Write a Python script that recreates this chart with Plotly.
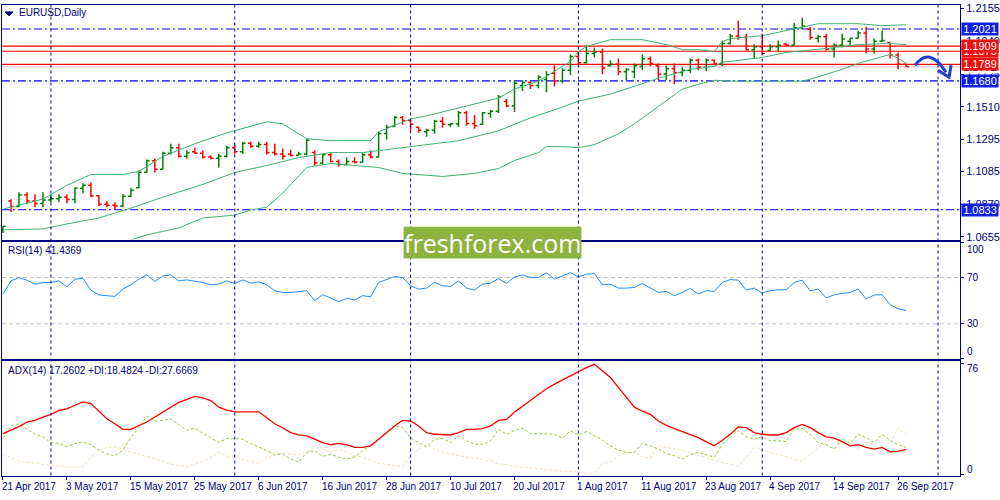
# EURUSD daily bars with Bollinger bands, RSI(14) and ADX(14) panels
import pandas as pd
import plotly.graph_objects as go

# ---------------------------------------------------------------- data
dates = pd.bdate_range("2017-04-21", "2017-09-27").strftime("%Y-%m-%d").tolist()

bar_open = [
    1.0700, 1.0890, 1.0855, 1.0930, 1.0890, 1.0875, 1.0898, 1.0905, 1.0915, 1.0900,
    1.0975, 1.0995, 1.0925, 1.0870, 1.0862, 1.0858, 1.0922, 1.0978, 1.1080, 1.1155,
    1.1100, 1.1205, 1.1240, 1.1185, 1.1215, 1.1205, 1.1180, 1.1172, 1.1185, 1.1240,
    1.1215, 1.1270, 1.1250, 1.1262, 1.1210, 1.1200, 1.1200, 1.1192, 1.1200, 1.1210,
    1.1140, 1.1195, 1.1150, 1.1130, 1.1150, 1.1145, 1.1195, 1.1180, 1.1335, 1.1380,
    1.1440, 1.1420, 1.1375, 1.1345, 1.1355, 1.1415, 1.1392, 1.1398, 1.1470, 1.1400,
    1.1395, 1.1465, 1.1480, 1.1545, 1.1515, 1.1650, 1.1670, 1.1650, 1.1690, 1.1730,
    1.1680, 1.1750, 1.1840, 1.1800, 1.1860, 1.1870, 1.1780, 1.1790, 1.1740, 1.1740,
    1.1775, 1.1825, 1.1780, 1.1725, 1.1760, 1.1735, 1.1750, 1.1815, 1.1770, 1.1815,
    1.1795, 1.1925, 1.1975, 1.1965, 1.1885, 1.1905, 1.1880, 1.1905, 1.1922, 1.1915,
    1.2030, 1.2020, 1.1960, 1.1970, 1.1890, 1.1915, 1.1940, 1.1960, 1.1995, 1.1890,
    1.1940, 1.1932, 1.1850, 1.1790,
]
bar_high = [
    1.0727, 1.0902, 1.0948, 1.0948, 1.0935, 1.0948, 1.0935, 1.0935, 1.0935, 1.0981,
    1.1007, 1.1013, 1.0929, 1.0889, 1.0883, 1.0935, 1.0974, 1.1091, 1.1163, 1.1170,
    1.1215, 1.1267, 1.1267, 1.1222, 1.1241, 1.1222, 1.1189, 1.1202, 1.1254, 1.1261,
    1.1280, 1.1280, 1.1280, 1.1280, 1.1267, 1.1235, 1.1228, 1.1215, 1.1300, 1.1222,
    1.1202, 1.1209, 1.1163, 1.1176, 1.1176, 1.1209, 1.1222, 1.1346, 1.1391, 1.1450,
    1.1450, 1.1430, 1.1378, 1.1365, 1.1424, 1.1443, 1.1404, 1.1482, 1.1482, 1.1456,
    1.1476, 1.1489, 1.1587, 1.1561, 1.1684, 1.1684, 1.1678, 1.1717, 1.1743, 1.1782,
    1.1763, 1.1854, 1.1873, 1.1912, 1.1899, 1.1893, 1.1815, 1.1828, 1.1763, 1.1795,
    1.1854, 1.1841, 1.1795, 1.1782, 1.1795, 1.1769, 1.1828, 1.1828, 1.1828, 1.1821,
    1.1945, 1.1990, 1.2075, 1.1990, 1.1919, 1.1990, 1.1919, 1.1945, 1.1925, 1.2062,
    1.2095, 1.2036, 1.1984, 1.1990, 1.1925, 1.1990, 1.1964, 1.2010, 1.2036, 1.1958,
    1.2010, 1.1932, 1.1867, 1.1795,
]
bar_low = [
    1.0681, 1.0818, 1.0850, 1.0870, 1.0850, 1.0850, 1.0883, 1.0883, 1.0876, 1.0876,
    1.0942, 1.0915, 1.0857, 1.0850, 1.0831, 1.0850, 1.0915, 1.0974, 1.1078, 1.1078,
    1.1098, 1.1196, 1.1176, 1.1170, 1.1202, 1.1170, 1.1163, 1.1111, 1.1176, 1.1202,
    1.1202, 1.1241, 1.1241, 1.1196, 1.1189, 1.1163, 1.1183, 1.1189, 1.1189, 1.1124,
    1.1131, 1.1144, 1.1118, 1.1124, 1.1137, 1.1144, 1.1170, 1.1176, 1.1293, 1.1378,
    1.1391, 1.1352, 1.1339, 1.1313, 1.1332, 1.1372, 1.1378, 1.1378, 1.1385, 1.1365,
    1.1391, 1.1437, 1.1469, 1.1508, 1.1476, 1.1613, 1.1626, 1.1632, 1.1606, 1.1645,
    1.1665, 1.1717, 1.1789, 1.1795, 1.1834, 1.1723, 1.1776, 1.1717, 1.1684, 1.1697,
    1.1750, 1.1776, 1.1684, 1.1684, 1.1658, 1.1710, 1.1730, 1.1750, 1.1743, 1.1789,
    1.1776, 1.1919, 1.1951, 1.1880, 1.1828, 1.1854, 1.1880, 1.1873, 1.1912, 1.1912,
    1.2017, 1.1951, 1.1932, 1.1880, 1.1834, 1.1899, 1.1912, 1.1958, 1.1860, 1.1860,
    1.1938, 1.1828, 1.1756, 1.1769,
]
bar_close = [
    1.0725, 1.0855, 1.0930, 1.0890, 1.0875, 1.0898, 1.0905, 1.0915, 1.0900, 1.0975,
    1.0995, 1.0925, 1.0870, 1.0862, 1.0858, 1.0922, 1.0962, 1.1080, 1.1155, 1.1100,
    1.1205, 1.1240, 1.1185, 1.1208, 1.1205, 1.1180, 1.1172, 1.1185, 1.1240, 1.1215,
    1.1270, 1.1250, 1.1262, 1.1210, 1.1200, 1.1185, 1.1190, 1.1200, 1.1290, 1.1140,
    1.1195, 1.1150, 1.1130, 1.1150, 1.1145, 1.1195, 1.1180, 1.1335, 1.1375, 1.1440,
    1.1420, 1.1395, 1.1355, 1.1355, 1.1415, 1.1395, 1.1398, 1.1470, 1.1400, 1.1385,
    1.1470, 1.1480, 1.1575, 1.1515, 1.1665, 1.1670, 1.1650, 1.1705, 1.1720, 1.1680,
    1.1750, 1.1840, 1.1800, 1.1860, 1.1870, 1.1765, 1.1790, 1.1740, 1.1755, 1.1780,
    1.1825, 1.1795, 1.1725, 1.1760, 1.1735, 1.1750, 1.1815, 1.1770, 1.1815, 1.1795,
    1.1925, 1.1975, 1.1965, 1.1885, 1.1905, 1.1860, 1.1905, 1.1915, 1.1915, 1.2030,
    1.2040, 1.1965, 1.1970, 1.1890, 1.1915, 1.1955, 1.1960, 1.1995, 1.1890, 1.1940,
    1.1945, 1.1850, 1.1790, 1.1775,
]

upper_idx = [0, 5, 8, 11, 15, 17, 20, 24, 28, 33, 35, 38, 41, 46, 47, 51, 53, 57, 62, 64,
             67, 69, 71, 72, 73, 76, 79, 80, 83, 85, 87, 89, 90, 91, 95, 99, 101, 102, 107, 110, 113]
upper_val = [1.0837, 1.0903, 1.0994, 1.1065, 1.1065, 1.1085, 1.1183, 1.1267, 1.1339, 1.1411,
             1.1398, 1.1300, 1.1287, 1.1287, 1.1346, 1.1430, 1.1450, 1.1502, 1.1567, 1.1626,
             1.1678, 1.1743, 1.1808, 1.1873, 1.1906, 1.1951, 1.1953, 1.1951, 1.1919, 1.1886,
             1.1886, 1.1873, 1.1938, 1.1958, 1.1977, 1.2023, 1.2049, 1.2056, 1.2056, 1.2043, 1.2049]
middle_idx = [0, 5, 8, 12, 16, 20, 25, 29, 33, 37, 41, 45, 49, 53, 57, 62, 66, 70, 72, 76,
              82, 86, 89, 90, 95, 98, 103, 107, 111, 113]
middle_val = [1.0701, 1.0707, 1.0740, 1.0779, 1.0844, 1.0916, 1.1000, 1.1078, 1.1124, 1.1176,
              1.1209, 1.1209, 1.1235, 1.1261, 1.1287, 1.1352, 1.1437, 1.1508, 1.1547, 1.1593,
              1.1697, 1.1756, 1.1775, 1.1802, 1.1834, 1.1867, 1.1893, 1.1919, 1.1925, 1.1919]
lower_idx = [16, 18, 22, 25, 29, 31, 33, 35, 38, 41, 47, 50, 55, 59, 62, 64, 67, 68, 70, 72,
             74, 77, 79, 82, 85, 87, 89, 92, 95, 100, 101, 105, 107, 110, 111, 112, 113]
lower_val = [1.0635, 1.0668, 1.0714, 1.0779, 1.0798, 1.0831, 1.0850, 1.0942, 1.1111, 1.1137,
             1.1111, 1.1072, 1.1052, 1.1072, 1.1104, 1.1157, 1.1209, 1.1248, 1.1248, 1.1241,
             1.1261, 1.1332, 1.1398, 1.1515, 1.1626, 1.1658, 1.1684, 1.1678, 1.1678, 1.1678,
             1.1691, 1.1756, 1.1795, 1.1840, 1.1854, 1.1828, 1.1795]

rsi = [
    55.7, 67.1, 70.0, 67.7, 64.3, 65.7, 65.7, 67.1, 62.0, 68.6,
    69.4, 59.1, 54.9, 54.3, 53.7, 60.0, 63.7, 68.6, 72.3, 66.6,
    71.4, 72.3, 67.1, 68.0, 67.1, 65.7, 63.7, 64.3, 67.1, 64.9,
    68.0, 65.1, 66.3, 63.7, 58.6, 57.1, 57.1, 58.0, 58.6, 50.0,
    55.1, 52.3, 49.1, 52.0, 50.6, 54.3, 53.4, 65.7, 68.6, 70.9,
    70.0, 62.9, 60.0, 60.9, 65.7, 62.9, 62.3, 67.1, 60.9, 59.1,
    64.3, 65.1, 69.1, 64.9, 70.6, 72.3, 70.0, 70.0, 74.3, 68.6,
    71.4, 74.3, 70.6, 72.9, 73.4, 63.7, 64.3, 60.9, 60.9, 61.4,
    64.9, 60.9, 57.1, 58.0, 54.3, 57.1, 60.6, 55.7, 58.6, 58.0,
    65.7, 68.3, 67.7, 59.1, 60.9, 56.6, 58.6, 59.4, 59.4, 65.7,
    67.7, 58.6, 60.0, 52.3, 55.1, 56.3, 57.1, 60.0, 51.4, 54.9,
    55.1, 46.6, 42.9, 41.4,
]
adx = [
    28.1, 30.3, 32.8, 36.0, 37.1, 39.4, 41.2, 43.9, 45.0, 47.5,
    49.8, 48.6, 43.4, 38.2, 34.8, 31.0, 31.0, 33.3, 36.0, 39.4,
    42.8, 46.2, 49.5, 51.6, 53.6, 52.5, 50.7, 46.2, 44.1, 43.0,
    43.0, 43.0, 43.0, 38.9, 34.8, 32.1, 28.7, 27.1, 26.5, 24.2,
    21.9, 20.4, 21.3, 20.4, 18.6, 18.6, 19.7, 24.2, 28.7, 33.3,
    37.1, 36.7, 33.3, 28.7, 27.6, 27.1, 27.1, 28.7, 31.0, 31.0,
    31.4, 33.3, 37.1, 37.8, 42.8, 46.8, 50.7, 55.2, 58.8, 62.0,
    64.9, 67.6, 70.6, 73.3, 75.6, 71.0, 66.5, 59.7, 52.9, 46.2,
    43.4, 41.2, 36.7, 33.7, 31.4, 29.4, 27.6, 25.3, 22.4, 19.7,
    23.5, 27.6, 32.6, 32.1, 28.7, 27.6, 27.1, 27.1, 28.7, 32.1,
    34.4, 32.1, 28.7, 25.8, 24.9, 22.6, 19.7, 20.4, 18.6, 17.4,
    18.6, 15.6, 15.8, 17.3,
]
plus_di = [
    24.7, 33.3, 34.8, 31.0, 27.6, 25.8, 21.9, 21.3, 19.0, 21.3,
    22.4, 20.4, 16.7, 14.0, 12.9, 16.7, 25.3, 32.1, 40.0, 36.7,
    37.1, 38.2, 34.4, 30.3, 31.7, 28.1, 25.3, 21.9, 24.7, 24.2,
    24.2, 21.3, 19.0, 16.3, 13.6, 14.0, 10.6, 8.4, 15.2, 16.3,
    12.4, 14.0, 11.8, 10.6, 12.2, 16.3, 19.7, 24.7, 28.1, 33.3,
    32.1, 24.9, 21.9, 19.0, 24.2, 24.7, 21.9, 26.5, 23.1, 20.8,
    20.8, 23.1, 31.0, 27.6, 30.3, 31.7, 28.1, 28.1, 27.6, 27.6,
    24.9, 29.9, 27.1, 29.4, 26.5, 23.5, 19.7, 16.7, 15.2, 15.2,
    21.3, 19.7, 17.4, 14.5, 12.9, 10.6, 13.6, 15.2, 13.6, 11.8,
    20.4, 25.3, 30.3, 25.8, 24.2, 25.8, 23.1, 23.1, 22.6, 31.0,
    31.7, 27.6, 21.9, 20.4, 17.4, 24.9, 21.3, 27.6, 25.3, 21.9,
    27.6, 23.5, 20.4, 18.5,
]
minus_di = [
    14.0, 11.8, 9.5, 8.4, 7.7, 6.8, 6.1, 5.4, 5.0, 5.0,
    5.4, 11.8, 16.7, 18.6, 19.0, 17.4, 15.2, 14.0, 12.2, 10.6,
    9.0, 7.2, 6.1, 5.4, 6.8, 9.5, 11.8, 15.2, 12.9, 11.3,
    10.6, 9.0, 7.7, 11.8, 13.6, 15.2, 14.0, 13.6, 15.6, 18.6,
    17.4, 15.2, 17.4, 15.8, 12.9, 11.8, 10.0, 7.7, 6.8, 6.1,
    5.4, 12.9, 17.4, 20.4, 17.4, 15.2, 14.0, 12.9, 11.8, 11.1,
    10.0, 9.5, 7.2, 6.8, 5.4, 5.0, 4.3, 3.8, 3.2, 2.7,
    2.3, 2.0, 1.6, 0.5, 0.9, 7.7, 8.4, 12.9, 15.2, 15.2,
    12.2, 11.1, 19.7, 18.6, 17.4, 16.7, 15.2, 12.9, 11.8, 9.5,
    8.4, 6.8, 5.7, 11.8, 18.6, 17.4, 15.2, 13.6, 12.2, 10.6,
    9.0, 14.0, 18.6, 21.9, 25.3, 20.4, 24.2, 17.4, 21.9, 20.8,
    16.7, 21.9, 31.7, 27.7,
]

blue_levels = [1.2021, 1.1680, 1.0833]
red_levels = [1.1909, 1.1875, 1.1789]
bid_price = 1.1772
price_ticks = [1.2155, 1.1940, 1.1725, 1.1510, 1.1295, 1.1085, 1.0870, 1.0655]
label_dates = ["2017-04-21", "2017-05-03", "2017-05-15", "2017-05-25", "2017-06-06",
               "2017-06-16", "2017-06-28", "2017-07-10", "2017-07-20", "2017-08-01",
               "2017-08-11", "2017-08-23", "2017-09-04", "2017-09-14", "2017-09-26"]
separator_idx = [6, 29, 51, 72, 95, 117]

# ---------------------------------------------------------------- style
NAVY = "#000080"
FONT = "Liberation Sans"
X_DOM = [0.002, 0.961]
MAIN_DOM = [0.52, 0.9946]
RSI_DOM = [0.2786, 0.5154]
ADX_DOM = [0.0434, 0.2746]
X_RANGE = [-0.125, 119.75]

# bars are placed by their position in the trading-day list
bar_x = list(range(len(dates)))

fig = go.Figure()

fig.add_trace(go.Ohlc(
    x=bar_x, open=bar_open, high=bar_high, low=bar_low, close=bar_close,
    increasing_line_color="#008000", decreasing_line_color="#ff0000",
    line_width=1.5, tickwidth=0.35, xaxis="x", yaxis="y", showlegend=False,
))
for idx, val in [(upper_idx, upper_val), (middle_idx, middle_val), (lower_idx, lower_val)]:
    fig.add_trace(go.Scatter(
        x=idx, y=val, mode="lines",
        line=dict(color="#3cb371", width=1), xaxis="x", yaxis="y", showlegend=False,
    ))

fig.add_trace(go.Scatter(x=bar_x, y=rsi, mode="lines", line=dict(color="#1e90ff", width=1),
                         xaxis="x2", yaxis="y2", showlegend=False))

fig.add_trace(go.Scatter(x=bar_x, y=minus_di, mode="lines",
                         line=dict(color="#f5deb3", width=1, dash="3px,2px"),
                         xaxis="x3", yaxis="y3", showlegend=False))
fig.add_trace(go.Scatter(x=bar_x, y=plus_di, mode="lines",
                         line=dict(color="#9acd32", width=1, dash="3px,2px"),
                         xaxis="x3", yaxis="y3", showlegend=False))
fig.add_trace(go.Scatter(x=bar_x, y=adx, mode="lines", line=dict(color="#ff0000", width=1.3),
                         xaxis="x3", yaxis="y3", showlegend=False))

frame = dict(showline=True, linecolor=NAVY, linewidth=1, mirror=True, showgrid=False,
             zeroline=False)
xcommon = dict(frame, type="linear", domain=X_DOM, range=X_RANGE, showticklabels=False)
label_pos = [dates.index(d) for d in label_dates]

shapes = []
# month separators
for s in separator_idx:
    shapes.append(dict(type="line", xref="x", yref="paper", x0=s, x1=s,
                       y0=ADX_DOM[0], y1=MAIN_DOM[1],
                       line=dict(color=NAVY, width=1, dash="3px,3px"), layer="above"))
# horizontal levels
shapes.append(dict(type="line", xref="paper", yref="y", x0=X_DOM[0], x1=X_DOM[1],
                   y0=bid_price, y1=bid_price, line=dict(color="#c8c8c8", width=1), layer="below"))
for lv in red_levels:
    shapes.append(dict(type="line", xref="paper", yref="y", x0=X_DOM[0], x1=X_DOM[1],
                       y0=lv, y1=lv, line=dict(color="#ff0000", width=1.2), layer="below"))
for lv in blue_levels:
    shapes.append(dict(type="line", xref="paper", yref="y", x0=X_DOM[0], x1=X_DOM[1],
                       y0=lv, y1=lv, line=dict(color="#0000ff", width=1.2, dash="8px,3px,2px,3px"),
                       layer="below"))
for lv in [70, 30]:
    shapes.append(dict(type="line", xref="paper", yref="y2", x0=X_DOM[0], x1=X_DOM[1],
                       y0=lv, y1=lv, line=dict(color="#c0c0c0", width=1, dash="4px,3px"),
                       layer="below"))
# watermark box
shapes.append(dict(type="rect", xref="paper", yref="paper", x0=0.404, x1=0.582,
                   y0=1 - 259 / 500, y1=1 - 227 / 500, fillcolor="#8db43e",
                   line=dict(width=0), layer="above"))
# hand-drawn forecast arrow
shapes.append(dict(type="path", xref="paper", yref="paper",
                   path="M 0.916 0.872 Q 0.930 0.912 0.947 0.858",
                   line=dict(color="#1f3fd6", width=3), layer="above"))
shapes.append(dict(type="path", xref="paper", yref="paper",
                   path="M 0.939 0.862 L 0.950 0.848 L 0.952 0.872",
                   line=dict(color="#1f3fd6", width=3), layer="above"))
# small drop-down marker in front of the symbol name
shapes.append(dict(type="path", xref="paper", yref="paper",
                   path="M 0.005 0.98 L 0.013 0.98 L 0.009 0.972 Z",
                   fillcolor=NAVY, line=dict(color=NAVY, width=1), layer="above"))

annotations = []
txt = dict(family=FONT, size=10, color=NAVY)
note = dict(xref="paper", yref="paper", showarrow=False, xanchor="left", yanchor="middle")
annotations.append(dict(note, x=0.017, y=1 - 11 / 500, text="EURUSD,Daily", font=txt))
annotations.append(dict(note, x=0.006, y=1 - 251 / 500, text="RSI(14) 41.4369", font=txt))
annotations.append(dict(note, x=0.006, y=1 - 372 / 500,
                        text="ADX(14) 17.2602 +DI:18.4824 -DI:27.6669", font=txt))
annotations.append(dict(xref="paper", yref="paper", x=0.493, y=1 - 243 / 500,
                        text="freshforex.com", showarrow=False, yanchor="middle",
                        font=dict(family="Open Sans", size=25, color="white")))

# date labels under the ADX panel
for d, pos in zip(label_dates, label_pos):
    ts = pd.Timestamp(d)
    annotations.append(dict(xref="x3", yref="paper", x=pos, y=1 - 489 / 500,
                            text=f"{ts.day} {ts.strftime('%b %Y')}", showarrow=False,
                            xanchor="left", yanchor="middle", xshift=-3, font=txt))

# right-hand scale labels of the indicator panels
for val, shift in [(100, -7), (70, 0), (30, 0), (0, 7)]:
    annotations.append(dict(xref="paper", yref="y2", x=0.966, y=val, yshift=shift, text=str(val),
                            showarrow=False, xanchor="left", yanchor="middle", font=txt))
for val, shift in [(76, -5), (0, 5)]:
    annotations.append(dict(xref="paper", yref="y3", x=0.966, y=val, yshift=shift, text=str(val),
                            showarrow=False, xanchor="left", yanchor="middle", font=txt))

# price tags on the right axis
box = dict(xref="paper", yref="y", x=0.962, xanchor="left", yanchor="middle", showarrow=False,
           width=36, height=12, borderpad=0, align="center")
annotations.append(dict(box, y=bid_price, text="1.1772", bgcolor="white",
                        font=dict(family=FONT, size=11, color=NAVY)))
for lv in [1.1875, 1.1909, 1.1789]:
    annotations.append(dict(box, y=lv, text=f"{lv:.4f}", bgcolor="#ee1111",
                            font=dict(family=FONT, size=11, color="white")))
for lv in blue_levels:
    annotations.append(dict(box, y=lv, text=f"{lv:.4f}", bgcolor="#1020e0",
                            font=dict(family=FONT, size=11, color="white")))

fig.update_layout(
    width=1000, height=500,
    margin=dict(l=0, r=0, t=0, b=0),
    paper_bgcolor="white", plot_bgcolor="white",
    font=dict(family=FONT, size=11, color=NAVY),
    xaxis=dict(xcommon, anchor="y", rangeslider=dict(visible=False)),
    xaxis2=dict(xcommon, anchor="y2", matches="x"),
    xaxis3=dict(xcommon, anchor="y3", matches="x", ticks="outside", ticklen=3,
                tickcolor=NAVY, tickvals=label_pos),
    yaxis=dict(frame, domain=MAIN_DOM, range=[1.0637, 1.2181], side="right", anchor="x",
               tickvals=price_ticks, tickformat=".4f", ticks="outside", ticklen=3,
               tickcolor=NAVY, tickfont=dict(family=FONT, size=11, color=NAVY)),
    yaxis2=dict(frame, domain=RSI_DOM, range=[-0.6, 100.9], side="right", anchor="x2",
                tickvals=[0, 30, 70, 100], ticks="outside", ticklen=3, tickcolor=NAVY,
                showticklabels=False),
    yaxis3=dict(frame, domain=ADX_DOM, range=[-0.7, 77.8], side="right", anchor="x3",
                tickvals=[0, 76], ticks="outside", ticklen=3, tickcolor=NAVY,
                showticklabels=False),
    shapes=shapes,
    annotations=annotations,
    hovermode=False,
)

# the page's default body margin would push the 1000x500 figure off the window
fig.write_html("out.html", config={"displayModeBar": False},
               post_script="document.body.style.margin='0';")
